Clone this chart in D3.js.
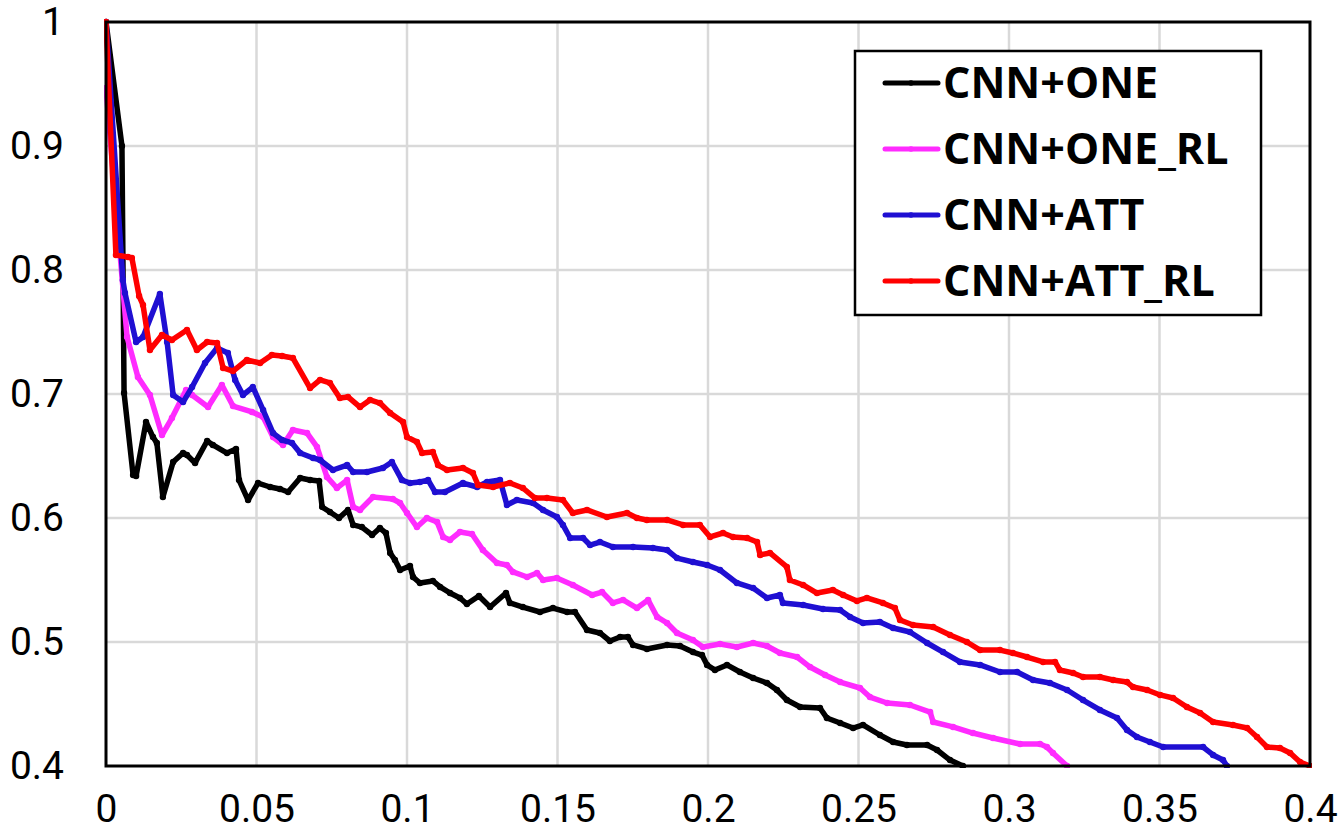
<!DOCTYPE html>
<html>
<head>
<meta charset="utf-8">
<script src="https://cdn.jsdelivr.net/npm/d3@7"></script>
<style>
  body { margin: 0; background: #fff; }
  svg { display: block; }
</style>
</head>
<body>
<svg id="chart" width="1344" height="839"></svg>
<script>
// ---- data (recall on x, precision on y) ----
const seriesNames = ["CNN+ONE", "CNN+ONE_RL", "CNN+ATT", "CNN+ATT_RL"];

const oneX = [0, 0.0053, 0.0060, 0.0090, 0.0100, 0.0133, 0.0156, 0.0169, 0.0189, 0.0223, 0.0256, 0.0269, 0.0296, 0.0336, 0.0355, 0.0402, 0.0432, 0.0442, 0.0472, 0.0505, 0.0545, 0.0578, 0.0605, 0.0645, 0.0678, 0.0708, 0.0718, 0.0744, 0.0774, 0.0804, 0.0821, 0.0850, 0.0884, 0.0910, 0.0930, 0.0944, 0.0960, 0.0977, 0.1010, 0.1020, 0.1043, 0.1086, 0.1110, 0.1143, 0.1176, 0.1199, 0.1239, 0.1276, 0.1329, 0.1342, 0.1385, 0.1442, 0.1485, 0.1532, 0.1558, 0.1598, 0.1641, 0.1674, 0.1708, 0.1734, 0.1751, 0.1797, 0.1864, 0.1907, 0.1950, 0.1980, 0.1997, 0.2023, 0.2063, 0.2106, 0.2150, 0.2196, 0.2229, 0.2262, 0.2306, 0.2372, 0.2395, 0.2439, 0.2482, 0.2515, 0.2571, 0.2615, 0.2661, 0.2728, 0.2761, 0.2804, 0.2847];
const oneY = [1.0, 0.9, 0.7008, 0.6347, 0.6339, 0.6774, 0.6653, 0.6605, 0.6169, 0.6452, 0.6524, 0.6508, 0.6444, 0.6621, 0.6589, 0.6524, 0.6556, 0.6306, 0.6145, 0.6282, 0.625, 0.6234, 0.621, 0.6323, 0.6306, 0.6298, 0.6089, 0.6048, 0.6, 0.6065, 0.5944, 0.5927, 0.5863, 0.5919, 0.5879, 0.5718, 0.5661, 0.5581, 0.5613, 0.5524, 0.5476, 0.5492, 0.5444, 0.5395, 0.5355, 0.5306, 0.5371, 0.5282, 0.5395, 0.5315, 0.5282, 0.5242, 0.5274, 0.5242, 0.5242, 0.5097, 0.5073, 0.5008, 0.504, 0.504, 0.4976, 0.4944, 0.4976, 0.4968, 0.4919, 0.4895, 0.4815, 0.4774, 0.4815, 0.4758, 0.471, 0.4669, 0.4613, 0.4532, 0.4476, 0.4468, 0.4387, 0.4347, 0.4306, 0.4331, 0.425, 0.4194, 0.4169, 0.4169, 0.4129, 0.4048, 0.4];

const oneRlX = [0, 0.0070, 0.0106, 0.0146, 0.0186, 0.0219, 0.0266, 0.0286, 0.0339, 0.0385, 0.0422, 0.0485, 0.0522, 0.0555, 0.0588, 0.0621, 0.0668, 0.0701, 0.0734, 0.0767, 0.0801, 0.0821, 0.0844, 0.0887, 0.0953, 0.0977, 0.1000, 0.1033, 0.1066, 0.1100, 0.1120, 0.1143, 0.1176, 0.1216, 0.1252, 0.1299, 0.1332, 0.1352, 0.1399, 0.1432, 0.1452, 0.1498, 0.1551, 0.1615, 0.1648, 0.1684, 0.1718, 0.1764, 0.1801, 0.1831, 0.1864, 0.1897, 0.1950, 0.1983, 0.2040, 0.2096, 0.2150, 0.2196, 0.2239, 0.2296, 0.2339, 0.2389, 0.2439, 0.2505, 0.2538, 0.2595, 0.2671, 0.2738, 0.2748, 0.2814, 0.2880, 0.2947, 0.3037, 0.3103, 0.3126, 0.3146, 0.3193];
const oneRlY = [0.9468, 0.746, 0.7137, 0.6992, 0.6669, 0.6806, 0.7032, 0.6992, 0.6895, 0.7073, 0.6903, 0.6855, 0.6815, 0.6653, 0.6589, 0.671, 0.6685, 0.6573, 0.6331, 0.6242, 0.6306, 0.6089, 0.6065, 0.6169, 0.6153, 0.6121, 0.604, 0.5927, 0.6, 0.5968, 0.5847, 0.5823, 0.5887, 0.5871, 0.5742, 0.5637, 0.5621, 0.5565, 0.5524, 0.5556, 0.55, 0.5516, 0.546, 0.5379, 0.5403, 0.5315, 0.5339, 0.5274, 0.5339, 0.5202, 0.5153, 0.5073, 0.5016, 0.496, 0.4984, 0.496, 0.4992, 0.4968, 0.4911, 0.4879, 0.4798, 0.4734, 0.4677, 0.4629, 0.4556, 0.4508, 0.4492, 0.4435, 0.4355, 0.4315, 0.4266, 0.4226, 0.4177, 0.4177, 0.4153, 0.4105, 0.4];

const attX = [0, 0.0056, 0.0063, 0.0100, 0.0123, 0.0179, 0.0203, 0.0223, 0.0256, 0.0286, 0.0329, 0.0369, 0.0405, 0.0429, 0.0455, 0.0488, 0.0522, 0.0555, 0.0585, 0.0618, 0.0645, 0.0688, 0.0711, 0.0754, 0.0801, 0.0821, 0.0867, 0.0920, 0.0950, 0.0983, 0.1010, 0.1043, 0.1070, 0.1093, 0.1126, 0.1186, 0.1233, 0.1266, 0.1309, 0.1332, 0.1365, 0.1419, 0.1452, 0.1498, 0.1518, 0.1542, 0.1585, 0.1608, 0.1641, 0.1684, 0.1751, 0.1817, 0.1864, 0.1897, 0.1950, 0.1997, 0.2040, 0.2096, 0.2150, 0.2196, 0.2239, 0.2249, 0.2316, 0.2382, 0.2439, 0.2472, 0.2515, 0.2571, 0.2615, 0.2671, 0.2728, 0.2781, 0.2837, 0.2904, 0.2970, 0.3027, 0.3080, 0.3136, 0.3193, 0.3246, 0.3302, 0.3359, 0.3392, 0.3425, 0.3468, 0.3512, 0.3645, 0.3678, 0.3711, 0.3724];
const attY = [1.0, 0.7919, 0.7815, 0.7419, 0.746, 0.7806, 0.7419, 0.6992, 0.6935, 0.7056, 0.725, 0.7371, 0.7331, 0.7113, 0.6992, 0.7056, 0.6871, 0.6685, 0.6629, 0.6605, 0.6524, 0.6484, 0.6468, 0.6387, 0.6427, 0.6371, 0.6371, 0.6403, 0.6452, 0.6306, 0.6282, 0.629, 0.6306, 0.621, 0.621, 0.6282, 0.625, 0.629, 0.6306, 0.6105, 0.6145, 0.6121, 0.6065, 0.6008, 0.5944, 0.5839, 0.5839, 0.5782, 0.5806, 0.5766, 0.5766, 0.5758, 0.5742, 0.5677, 0.5645, 0.5621, 0.5581, 0.5476, 0.5435, 0.5355, 0.5379, 0.5315, 0.5298, 0.5266, 0.5258, 0.5202, 0.5153, 0.5161, 0.5113, 0.5081, 0.4992, 0.4919, 0.4839, 0.4815, 0.4758, 0.4758, 0.4694, 0.4669, 0.4613, 0.4532, 0.4452, 0.4387, 0.429, 0.4234, 0.4194, 0.4153, 0.4153, 0.4089, 0.4048, 0.4];

const attRlX = [0, 0.0033, 0.0073, 0.0086, 0.0110, 0.0123, 0.0146, 0.0186, 0.0219, 0.0269, 0.0302, 0.0336, 0.0369, 0.0389, 0.0422, 0.0468, 0.0512, 0.0551, 0.0585, 0.0621, 0.0678, 0.0711, 0.0744, 0.0777, 0.0804, 0.0844, 0.0877, 0.0910, 0.0944, 0.0987, 0.1000, 0.1033, 0.1050, 0.1086, 0.1103, 0.1133, 0.1186, 0.1219, 0.1236, 0.1286, 0.1342, 0.1385, 0.1425, 0.1465, 0.1518, 0.1551, 0.1598, 0.1664, 0.1731, 0.1764, 0.1797, 0.1864, 0.1917, 0.1973, 0.2007, 0.2050, 0.2083, 0.2130, 0.2163, 0.2173, 0.2206, 0.2262, 0.2272, 0.2316, 0.2362, 0.2415, 0.2449, 0.2495, 0.2528, 0.2581, 0.2621, 0.2638, 0.2681, 0.2748, 0.2804, 0.2860, 0.2904, 0.2970, 0.3013, 0.3060, 0.3113, 0.3153, 0.3169, 0.3213, 0.3246, 0.3302, 0.3346, 0.3392, 0.3412, 0.3459, 0.3502, 0.3545, 0.3591, 0.3635, 0.3678, 0.3744, 0.3791, 0.3824, 0.3857, 0.3900, 0.3934, 0.3967, 0.4];
const attRlY = [1.0, 0.8121, 0.8105, 0.8097, 0.779, 0.7718, 0.7355, 0.7476, 0.7435, 0.7516, 0.7355, 0.7419, 0.7411, 0.721, 0.7185, 0.7274, 0.725, 0.7315, 0.7306, 0.729, 0.7048, 0.7113, 0.7089, 0.6968, 0.6976, 0.6895, 0.6952, 0.6927, 0.6847, 0.6774, 0.6653, 0.6613, 0.6524, 0.6532, 0.6427, 0.6387, 0.6403, 0.6363, 0.6266, 0.625, 0.6282, 0.6242, 0.6161, 0.6161, 0.6145, 0.604, 0.6065, 0.6008, 0.604, 0.6, 0.5984, 0.5984, 0.5944, 0.5944, 0.5847, 0.5879, 0.5847, 0.5839, 0.5806, 0.5702, 0.5718, 0.5605, 0.55, 0.546, 0.5395, 0.5419, 0.5379, 0.5331, 0.5355, 0.5315, 0.5274, 0.5177, 0.5137, 0.5121, 0.5056, 0.5, 0.4935, 0.4935, 0.4911, 0.4879, 0.4839, 0.4839, 0.4774, 0.475, 0.4718, 0.4718, 0.4694, 0.4677, 0.4637, 0.4613, 0.4573, 0.4548, 0.4476, 0.4427, 0.4355, 0.4331, 0.4306, 0.4234, 0.4153, 0.4145, 0.4105, 0.4032, 0.4];

const xTicks = [0, 0.05, 0.1, 0.15, 0.2, 0.25, 0.3, 0.35, 0.4];
const xTickLabels = ["0", "0.05", "0.1", "0.15", "0.2", "0.25", "0.3", "0.35", "0.4"];
const yTicks = [0.4, 0.5, 0.6, 0.7, 0.8, 0.9, 1];
const yTickLabels = ["0.4", "0.5", "0.6", "0.7", "0.8", "0.9", "1"];

const colors = ["#000000", "#ff2bff", "#1f0fd2", "#ff0000"];

// build series objects from the arrays
const series = [
  { name: seriesNames[0], xs: oneX, ys: oneY },
  { name: seriesNames[1], xs: oneRlX, ys: oneRlY },
  { name: seriesNames[2], xs: attX, ys: attY },
  { name: seriesNames[3], xs: attRlX, ys: attRlY },
].map((s, i) => ({
  name: s.name,
  color: colors[i],
  points: s.xs.map((x, j) => ({ x: x, y: s.ys[j] })),
}));

// ---- layout ----
const svg = d3.select("#chart");
const margin = { left: 106, top: 22, right: 34, bottom: 73 };
const width = 1344 - margin.left - margin.right;
const height = 839 - margin.top - margin.bottom;

const x = d3.scaleLinear().domain([0, 0.4]).range([0, width]);
const y = d3.scaleLinear().domain([0.4, 1]).range([height, 0]);

const g = svg.append("g").attr("transform", `translate(${margin.left},${margin.top})`);

// gridlines
g.append("g")
  .selectAll("line")
  .data(xTicks.slice(1, -1))
  .enter()
  .append("line")
  .attr("x1", (d) => x(d))
  .attr("x2", (d) => x(d))
  .attr("y1", 0)
  .attr("y2", height)
  .attr("stroke", "#d9d9d9")
  .attr("stroke-width", 2.5);

g.append("g")
  .selectAll("line")
  .data(yTicks.slice(1, -1))
  .enter()
  .append("line")
  .attr("x1", 0)
  .attr("x2", width)
  .attr("y1", (d) => y(d))
  .attr("y2", (d) => y(d))
  .attr("stroke", "#d9d9d9")
  .attr("stroke-width", 2.5);

// axes (labels only)
const tickFont = "Roboto, 'Noto Sans', sans-serif";

const xAxis = g.append("g")
  .attr("transform", `translate(0,${height})`)
  .call(
    d3.axisBottom(x)
      .tickValues(xTicks)
      .tickSize(0)
      .tickPadding(28)
      .tickFormat((d, i) => xTickLabels[i])
  );
const yAxis = g.append("g")
  .call(
    d3.axisLeft(y)
      .tickValues(yTicks)
      .tickSize(0)
      .tickPadding(42)
      .tickFormat((d, i) => yTickLabels[i])
  );
[xAxis, yAxis].forEach((a) => {
  a.select(".domain").remove();
  a.selectAll("text")
    .style("font-family", tickFont)
    .style("font-size", "39px")
    .attr("fill", "#000");
});

// clip to plot area
svg.append("defs")
  .append("clipPath")
  .attr("id", "plot-clip")
  .append("rect")
  .attr("x", -2)
  .attr("y", -4)
  .attr("width", width + 4)
  .attr("height", height + 6);

const line = d3.line().x((d) => x(d.x)).y((d) => y(d.y));

const lines = g.append("g").attr("clip-path", "url(#plot-clip)");

series.forEach((s) => {
  const sg = lines.append("g");
  sg.append("path")
    .datum(s.points)
    .attr("d", line)
    .attr("fill", "none")
    .attr("stroke", s.color)
    .attr("stroke-width", 5.5)
    .attr("stroke-linejoin", "round")
    .attr("stroke-linecap", "round");
  sg.selectAll("circle")
    .data(s.points)
    .enter()
    .append("circle")
    .attr("cx", (d) => x(d.x))
    .attr("cy", (d) => y(d.y))
    .attr("r", 3.2)
    .attr("fill", s.color);
});

// plot border
g.append("rect")
  .attr("x", 0)
  .attr("y", 0)
  .attr("width", width)
  .attr("height", height)
  .attr("fill", "none")
  .attr("stroke", "#000")
  .attr("stroke-width", 3);

// legend
const legend = svg.append("g").attr("transform", "translate(855,51)");
legend.append("rect")
  .attr("width", 406)
  .attr("height", 264)
  .attr("fill", "#fff")
  .attr("stroke", "#000")
  .attr("stroke-width", 2.5);

series.forEach((s, i) => {
  const row = legend.append("g").attr("transform", `translate(0,${32 + i * 66})`);
  row.append("line")
    .attr("x1", 30)
    .attr("x2", 83)
    .attr("stroke", s.color)
    .attr("stroke-width", 5)
    .attr("stroke-linecap", "round");
  row.append("circle")
    .attr("cx", 56)
    .attr("cy", 0)
    .attr("r", 2.8)
    .attr("fill", s.color);
  row.append("text")
    .attr("x", 88)
    .attr("y", 15)
    .text(s.name)
    .style("font-family", "'Open Sans', sans-serif")
    .style("font-weight", "bold")
    .style("font-size", "43px")
    .attr("fill", "#000");
});
</script>
</body>
</html>
